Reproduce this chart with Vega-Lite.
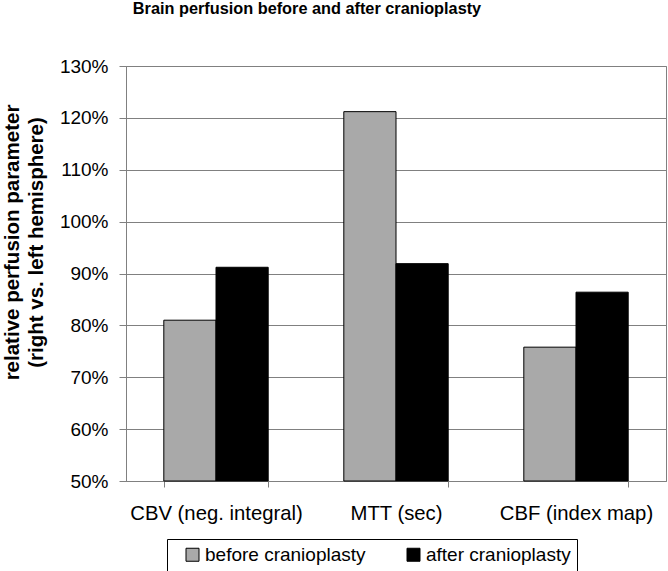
{
  "$schema": "https://vega.github.io/schema/vega-lite/v6.json",
  "width": 540,
  "height": 415,
  "autosize": {"type": "none"},
  "padding": {"left": 126, "top": 66, "right": 2, "bottom": 90},
  "background": "white",
  "title": {
    "text": "Brain perfusion before and after cranioplasty",
    "font": "Liberation Sans",
    "fontSize": 16.3,
    "fontWeight": "bold",
    "color": "black",
    "anchor": "middle",
    "dx": -89,
    "offset": 40
  },
  "config": {
    "font": "Liberation Sans",
    "view": {"stroke": "#808080", "strokeWidth": 1}
  },
  "data": {
    "values": [
      {"parameter": "CBV (neg. integral)", "series": "before cranioplasty", "value": 0.81},
      {"parameter": "CBV (neg. integral)", "series": "after cranioplasty", "value": 0.912},
      {"parameter": "MTT (sec)", "series": "before cranioplasty", "value": 1.212},
      {"parameter": "MTT (sec)", "series": "after cranioplasty", "value": 0.919},
      {"parameter": "CBF (index map)", "series": "before cranioplasty", "value": 0.758},
      {"parameter": "CBF (index map)", "series": "after cranioplasty", "value": 0.864}
    ]
  },
  "mark": {"type": "bar", "stroke": "black", "strokeWidth": 1},
  "encoding": {
    "x": {
      "field": "parameter",
      "type": "nominal",
      "sort": ["CBV (neg. integral)", "MTT (sec)", "CBF (index map)"],
      "scale": {"paddingInner": 0.42, "paddingOuter": 0.21},
      "axis": {
        "title": null,
        "labelAngle": 0,
        "labelFontSize": 20.3,
        "labelColor": "black",
        "labelPadding": 16,
        "tickBand": "extent",
        "tickSize": 6,
        "tickColor": "#808080",
        "domainColor": "#808080",
        "labelFont": "Liberation Sans"
      }
    },
    "xOffset": {
      "field": "series",
      "type": "nominal",
      "sort": ["before cranioplasty", "after cranioplasty"]
    },
    "y": {
      "field": "value",
      "type": "quantitative",
      "scale": {"domain": [0.5, 1.3], "nice": false, "zero": false},
      "axis": {
        "title": ["relative perfusion parameter", "(right vs. left hemisphere)"],
        "titleFontSize": 20.5,
        "titleFontWeight": "bold",
        "titleColor": "black",
        "titleFont": "Liberation Sans",
        "titleX": -124,
        "titleY": 176,
        "titleAngle": -90,
        "titleAlign": "center",
        "titleBaseline": "top",
        "titleLineHeight": 24,
        "values": [0.5, 0.6, 0.7, 0.8, 0.9, 1.0, 1.1, 1.2, 1.3],
        "format": ".0%",
        "labelFontSize": 19,
        "labelColor": "black",
        "labelPadding": 11,
        "labelFont": "Liberation Sans",
        "tickSize": 7,
        "tickColor": "#808080",
        "domainColor": "#808080",
        "grid": true,
        "gridColor": "#808080",
        "gridOpacity": 1
      }
    },
    "y2": {"datum": 0.5},
    "fill": {
      "field": "series",
      "type": "nominal",
      "sort": ["before cranioplasty", "after cranioplasty"],
      "scale": {"domain": ["before cranioplasty", "after cranioplasty"], "range": ["#a9a9a9", "#000000"]},
      "legend": {
        "title": null,
        "orient": "none",
        "direction": "horizontal",
        "legendX": 41,
        "legendY": 473,
        "strokeColor": "black",
        "fillColor": "white",
        "padding": 6,
        "symbolOffset": 10,
        "symbolType": "square",
        "symbolSize": 169,
        "symbolStrokeColor": "black",
        "symbolStrokeWidth": 1,
        "labelFontSize": 19,
        "labelColor": "black",
        "labelFont": "Liberation Sans",
        "labelOffset": 3,
        "labelLimit": 300,
        "columnPadding": 28
      }
    }
  }
}
